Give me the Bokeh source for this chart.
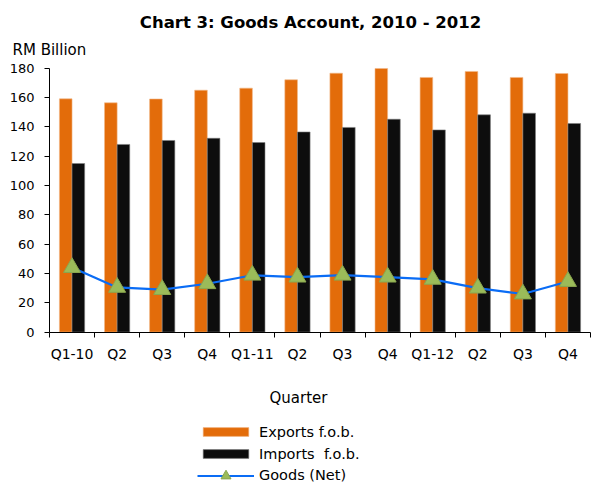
from bokeh.plotting import figure
from bokeh.models import (Range1d, FixedTicker, Label, Legend, LegendItem,
                          ColumnDataSource, LinearAxis)
from bokeh.embed import file_html
from bokeh.resources import INLINE

quarters = ["Q1-10", "Q2", "Q3", "Q4", "Q1-11", "Q2", "Q3", "Q4", "Q1-12", "Q2", "Q3", "Q4"]
exports = [159.1, 156.4, 159.0, 165.0, 166.4, 172.1, 176.6, 179.8, 173.7, 177.8, 173.7, 176.4]
imports = [115.0, 128.0, 130.7, 132.2, 129.3, 136.5, 139.6, 145.2, 137.9, 148.2, 149.3, 142.3]
net = [44.0, 30.5, 29.0, 33.0, 38.8, 37.5, 38.8, 37.5, 36.0, 30.0, 26.0, 34.5]
y_ticks = [0, 20, 40, 60, 80, 100, 120, 140, 160, 180]
y_max = 180

FONT = "DejaVu Sans"
W, H = 591, 486
# plot-area placement on the canvas (pixels)
AX_L, AX_R, AX_T, AX_B = 49.0, 590.0, 67.7, 331.6
n = len(quarters)
kx = (AX_R - AX_L) / n          # px per category
ky = (AX_B - AX_T) / y_max      # px per unit
x0 = -AX_L / kx
x1 = n + (W - AX_R) / kx
y1 = AX_B / ky
y0 = -(H - AX_B) / ky


def px_x(px):
    return (px - AX_L) / kx


def px_y(py):
    return (AX_B - py) / ky


centers = [i + 0.5 for i in range(n)]
src = ColumnDataSource(dict(
    xe=[c - 0.14 for c in centers],
    xi=[c + 0.14 for c in centers],
    xc=centers,
    exports=exports, imports=imports, net=net,
))

p = figure(width=W, height=H, output_backend="svg", toolbar_location=None,
           title_location=None, x_axis_location=None, y_axis_location=None,
           x_range=Range1d(x0, x1), y_range=Range1d(y0, y1),
           min_border=0)
p.outline_line_color = None
p.xgrid.visible = False
p.ygrid.visible = False

r_exp = p.vbar(x="xe", top="exports", width=0.28, source=src,
               fill_color="#E36C0A", line_color="#F2B98A", line_width=0.6)
r_imp = p.vbar(x="xi", top="imports", width=0.28, source=src,
               fill_color="#0D0D0D", line_color="#7F7F7F", line_width=0.6)
r_line = p.line(x="xc", y="net", source=src, line_color="#0A6CF5", line_width=2.2)
r_tri = p.scatter(x="xc", y="net", source=src, marker="triangle", size=17,
                  fill_color="#9BBB59", line_color="#8AA64F", line_width=1)

# x axis at y = 0
xa = LinearAxis(fixed_location=0, bounds=(0, n))
xa.ticker = FixedTicker(ticks=centers, minor_ticks=list(range(n + 1)))
xa.major_label_overrides = {c: q for c, q in zip(centers, quarters)}
xa.major_tick_line_color = None
xa.major_tick_out = 4
xa.major_tick_in = 0
xa.minor_tick_in = 0
xa.minor_tick_out = 5
xa.minor_tick_line_color = "black"
xa.axis_line_color = "black"
xa.major_label_standoff = 9
xa.major_label_text_font = FONT
xa.major_label_text_font_size = "14px"
xa.major_label_text_color = "black"
p.add_layout(xa, "below")

# y axis at x = 0
ya = LinearAxis(fixed_location=0, bounds=(0, y_max))
ya.ticker = FixedTicker(ticks=y_ticks)
ya.major_tick_in = 0
ya.major_tick_out = 5
ya.minor_tick_line_color = None
ya.axis_line_color = "black"
ya.major_tick_line_color = "black"
ya.major_label_standoff = 10
ya.major_label_text_font = FONT
ya.major_label_text_font_size = "13px"
ya.major_label_text_color = "black"
p.add_layout(ya, "left")

p.add_layout(Label(x=px_x(310), y=px_y(22), text="Chart 3: Goods Account, 2010 - 2012",
                   text_font=FONT, text_font_size="16.5px", text_font_style="bold",
                   text_align="center", text_baseline="middle", text_color="black"))
p.add_layout(Label(x=px_x(12), y=px_y(49), text="RM Billion", text_font=FONT,
                   text_font_size="15px", text_align="left", text_baseline="middle",
                   text_color="black"))
p.add_layout(Label(x=px_x(298), y=px_y(397), text="Quarter", text_font=FONT,
                   text_font_size="15px", text_align="center", text_baseline="middle",
                   text_color="black"))

legend_style = dict(orientation="vertical", padding=0, margin=0, label_standoff=5,
                    glyph_width=57, border_line_color=None, background_fill_alpha=0,
                    label_text_font=FONT, label_text_font_size="14.5px",
                    label_text_color="black")
legend_bars = Legend(items=[
    LegendItem(label="Exports f.o.b.", renderers=[r_exp]),
    LegendItem(label="Imports  f.o.b.", renderers=[r_imp]),
], location=(197, 22.5), glyph_height=11, label_height=20, spacing=2, **legend_style)
legend_net = Legend(items=[
    LegendItem(label="Goods (Net)", renderers=[r_line, r_tri]),
], location=(197, -1.5), glyph_height=25, label_height=25, spacing=0, **legend_style)
p.add_layout(legend_bars)
p.add_layout(legend_net)

open("out.html", "w").write(file_html(p, INLINE))
